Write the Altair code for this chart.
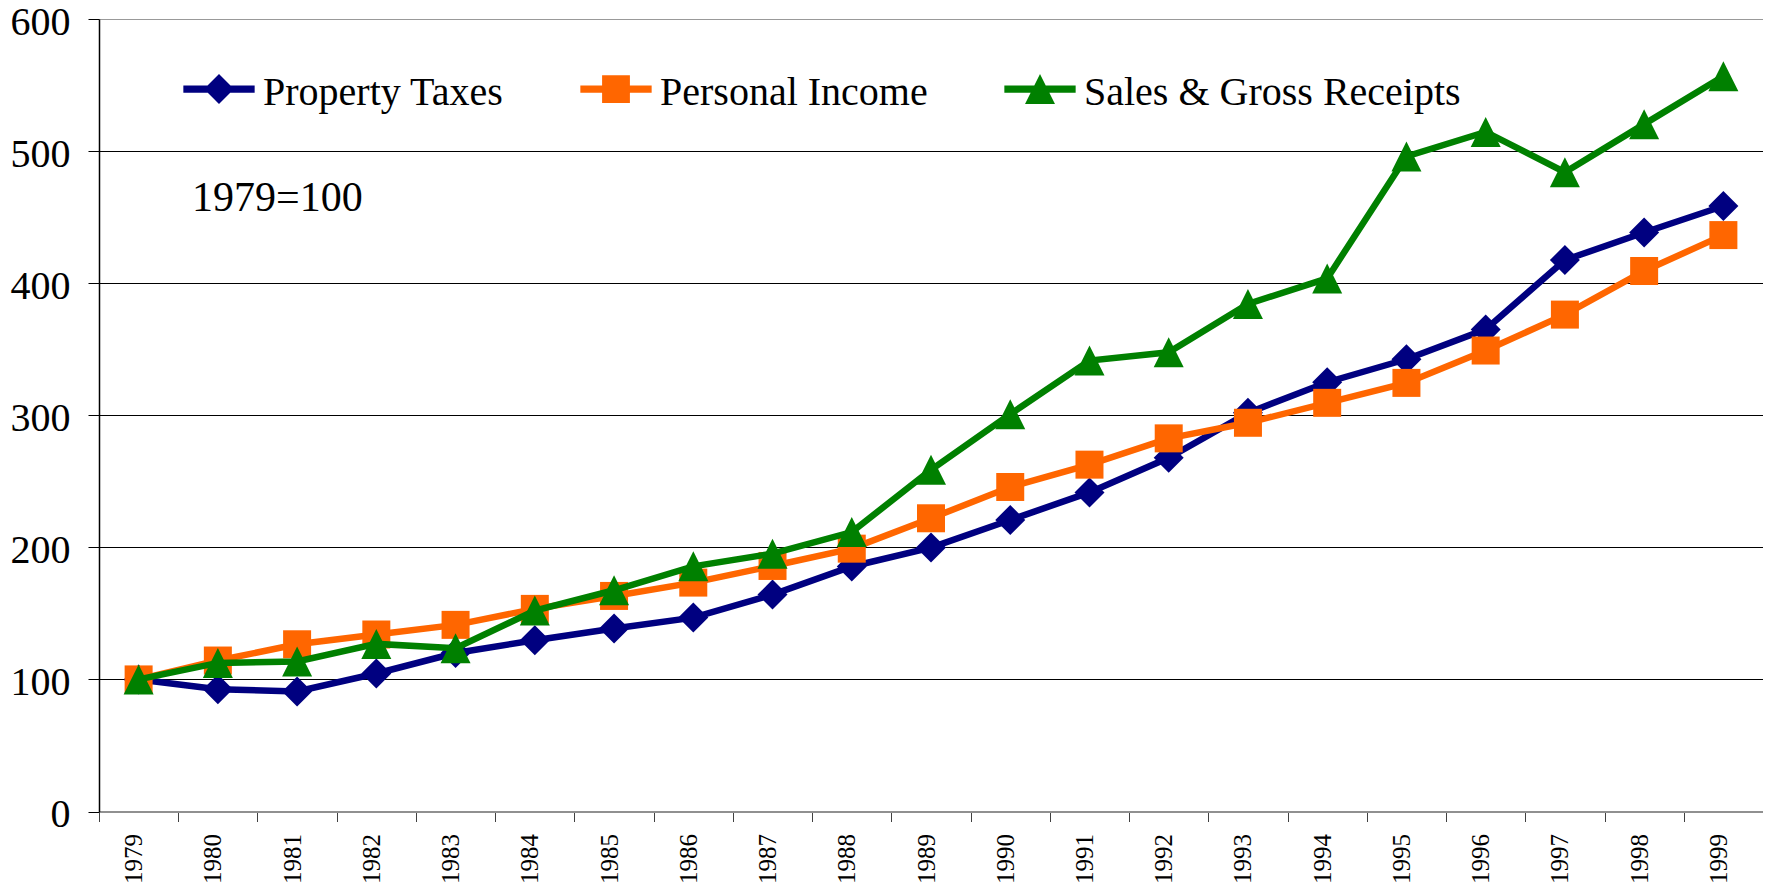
import altair as alt
import pandas as pd

years = [str(y) for y in range(1979, 2000)]
series_names = ["Property Taxes", "Personal Income", "Sales & Gross Receipts"]
property_taxes = [100, 92.6, 90.9, 104.5, 120, 129.7, 138.5, 146.8, 164.2, 185.5,
                  199.8, 220.7, 241.6, 267.8, 301.8, 325, 342.4, 365, 417.5, 438.4, 458.4]
personal_income = [100, 114.3, 126.6, 134, 141.3, 153.4, 163.2, 173.3, 185.9, 199,
                   222, 245.7, 262.6, 282.5, 294.3, 309.4, 324.5, 349, 376.2, 409.2, 436.4]
sales_receipts = [100, 112.5, 113.6, 126.9, 123.6, 152.1, 167.5, 185.6, 195.2, 211.6,
                  258.7, 300.8, 341.4, 347.7, 384.3, 403.6, 495.9, 514.5, 484, 520.4, 556.7]
annotation = ["1979=100"]

colors = ["#000080", "#FF6600", "#008000"]
FONT = "Liberation Serif, Times New Roman, Tinos, DejaVu Serif, serif"

# marker shapes (plot) and legend shapes (line + marker)
plot_shapes = [
    "diamond",
    "M-1,-1H1V1H-1Z",
    "M0,-1L1,1L-1,1Z",
]
plot_sizes = [900, 784, 900]
legend_shapes = [
    "M-1,-0.21H1V-0.01H-1Z M0,-0.53L0.42,-0.11L0,0.31L-0.42,-0.11Z",
    "M-1,-0.21H1V-0.01H-1Z M-0.39,-0.5H0.39V0.28H-0.39Z",
    "M-1,-0.21H1V-0.01H-1Z M0,-0.53L0.42,0.31L-0.42,0.31Z",
]

values = [property_taxes, personal_income, sales_receipts]
rows = []
for name, vals in zip(series_names, values):
    for yr, v in zip(years, vals):
        rows.append({"Year": yr, "Value": v, "Series": name, "Legend": name})
df = pd.DataFrame(rows)

x_enc = alt.X(
    "Year:O",
    sort=years,
    scale=alt.Scale(paddingInner=0, paddingOuter=0),
    axis=alt.Axis(
        title=None,
        labelAngle=270,
        labelFont=FONT,
        labelFontSize=25,
        labelColor="black",
        labelPadding=12,
        labelOffset=-5,
        tickBand="extent",
        tickSize=10,
        tickColor="#404040",
        domainColor="#909090",
        domainWidth=2,
        grid=False,
    ),
)
y_enc = alt.Y(
    "Value:Q",
    scale=alt.Scale(domain=[0, 600], nice=False),
    axis=alt.Axis(
        title=None,
        values=[0, 100, 200, 300, 400, 500, 600],
        labelFont=FONT,
        labelFontSize=40,
        labelColor="black",
        labelPadding=18,
        labelOffset=3,
        tickSize=11,
        tickColor="black",
        domainColor="black",
        domainWidth=1.5,
        grid=True,
        gridColor={"condition": {"test": "datum.value === 600", "value": "#999999"}, "value": "black"},
        gridWidth=1,
    ),
)

layers = []
for i, name in enumerate(series_names):
    sub = alt.Chart(df).transform_filter(alt.datum.Series == name)
    line = sub.mark_line(color=colors[i], strokeWidth=6.5).encode(x=x_enc, y=y_enc)
    pts = sub.mark_point(filled=True, opacity=1, color=colors[i], shape=plot_shapes[i],
                         size=plot_sizes[i]).encode(x=x_enc, y=y_enc)
    layers += [line, pts]

legend_layer = (
    alt.Chart(df)
    .transform_filter("false")
    .mark_point(filled=True, opacity=1)
    .encode(
        x=x_enc,
        y=y_enc,
        color=alt.Color(
            "Legend:N",
            scale=alt.Scale(domain=series_names, range=colors),
            legend=alt.Legend(
                title=None,
                orient="none",
                legendX=84,
                legendY=38,
                direction="horizontal",
                symbolSize=5084,
                symbolStrokeWidth=0,
                labelFont=FONT,
                labelFontSize=40,
                labelColor="black",
                labelOffset=8,
                columnPadding=76,
                padding=0,
                labelLimit=600,
            ),
        ),
        shape=alt.Shape(
            "Legend:N",
            scale=alt.Scale(domain=series_names, range=legend_shapes),
        ),
    )
)

note = (
    alt.Chart(pd.DataFrame({"t": annotation}))
    .mark_text(align="left", baseline="middle", font=FONT, fontSize=42, color="black")
    .encode(text="t:N", x=alt.value(93), y=alt.value(179))
)

chart = (
    alt.layer(*layers, legend_layer, note)
    .properties(
        width=1664,
        height=792.5,
        autosize="none",
        padding={"left": 91, "top": 11, "right": 0, "bottom": 72.5},
    )
    .configure_view(stroke="#999999", strokeWidth=2)
    .configure(background="white")
)

chart.save("out.html", embed_options={"renderer": "svg", "actions": False})
